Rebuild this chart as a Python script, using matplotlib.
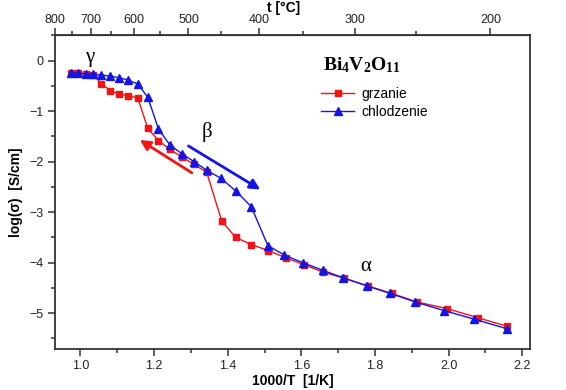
import numpy as np
import matplotlib
matplotlib.use('Agg')
import matplotlib.pyplot as plt
from matplotlib.ticker import MultipleLocator, FixedLocator

plt.rcParams['font.family'] = 'Liberation Sans'
plt.rcParams['mathtext.fontset'] = 'custom'
plt.rcParams['mathtext.bf'] = 'Liberation Serif:bold'
plt.rcParams['mathtext.rm'] = 'Liberation Serif'

# heating (grzanie)
x_grz = [0.974, 0.993, 1.015, 1.035, 1.057, 1.081, 1.105, 1.130, 1.156, 1.183,
         1.212, 1.242, 1.275, 1.309, 1.343, 1.384, 1.422, 1.464, 1.510, 1.557,
         1.607, 1.660, 1.717, 1.780, 1.846, 1.915, 1.996, 2.079, 2.159]
y_grz = [-0.24, -0.25, -0.26, -0.28, -0.455, -0.59, -0.66, -0.69, -0.74, -1.34,
         -1.58, -1.75, -1.905, -2.055, -2.21, -3.18, -3.50, -3.64, -3.76, -3.90,
         -4.04, -4.19, -4.31, -4.46, -4.61, -4.78, -4.91, -5.09, -5.26]

# cooling (chlodzenie)
x_chl = [0.974, 0.993, 1.015, 1.035, 1.057, 1.081, 1.105, 1.130, 1.156, 1.183,
         1.212, 1.242, 1.275, 1.309, 1.343, 1.382, 1.422, 1.464, 1.509, 1.554,
         1.604, 1.658, 1.714, 1.778, 1.842, 1.910, 1.988, 2.070, 2.159]
y_chl = [-0.237, -0.245, -0.257, -0.271, -0.284, -0.304, -0.336, -0.383, -0.462, -0.725,
         -1.35, -1.66, -1.84, -2.00, -2.17, -2.33, -2.58, -2.89, -3.66, -3.85,
         -4.00, -4.15, -4.30, -4.46, -4.61, -4.78, -4.95, -5.12, -5.31]

t_major = [800, 700, 600, 500, 400, 300, 200]
t_minor = [750, 650, 550, 450, 350, 250]

red = '#f01414'
blue = '#1414e6'
frame = '#333333'

fig = plt.figure(figsize=(5.66, 3.9), dpi=100)
ax = fig.add_axes([0.0972, 0.1064, 0.8392, 0.8026])

ax.plot(x_grz, y_grz, '-s', color=red, lw=1.0, ms=4.5, label='grzanie', zorder=3)
ax.plot(x_chl, y_chl, '-^', color=blue, lw=1.0, ms=5.5, label='chlodzenie', zorder=4)

# direction arrows
ax.annotate('', xy=(1.155, -1.54), xytext=(1.309, -2.25),
            arrowprops=dict(arrowstyle='-|>', color=red, lw=2, mutation_scale=15))
ax.annotate('', xy=(1.495, -2.58), xytext=(1.287, -1.66),
            arrowprops=dict(arrowstyle='-|>', color=blue, lw=2, mutation_scale=15))

serif = 'Liberation Serif'
ax.text(1.024, 0.06, 'γ', family=serif, fontsize=15, ha='center', va='center')
ax.text(1.343, -1.41, 'β', family=serif, fontsize=15, ha='center', va='center')
ax.text(1.776, -4.08, 'α', family=serif, fontsize=15, ha='center', va='center')
ax.text(1.659, -0.09, r'$\mathbf{Bi_4V_2O_{11}}$', fontsize=14, ha='left', va='center')

ax.set_xlim(0.931, 2.221)
ax.set_ylim(-5.7, 0.5)
ax.xaxis.set_major_locator(MultipleLocator(0.2))
ax.xaxis.set_minor_locator(MultipleLocator(0.1))
ax.yaxis.set_major_locator(MultipleLocator(1))
ax.yaxis.set_minor_locator(MultipleLocator(0.5))
ax.tick_params(which='both', direction='out', colors=frame, labelcolor='#222222',
               labelsize=9, width=1.1)
ax.tick_params(which='major', length=5)
ax.tick_params(which='minor', length=3)
for s in ax.spines.values():
    s.set_color(frame)
    s.set_linewidth(1.3)

ax.set_xlabel('1000/T  [1/K]', fontsize=10, fontweight='bold', labelpad=1)
ax.set_ylabel('log(σ)  [S/cm]', fontsize=10, fontweight='bold', labelpad=4)

top = ax.secondary_xaxis('top', functions=(lambda x: 1000.0 / np.asarray(x) - 273.15,
                                           lambda t: 1000.0 / (np.asarray(t) + 273.15)))
top.xaxis.set_major_locator(FixedLocator(t_major))
top.xaxis.set_minor_locator(FixedLocator(t_minor))
top.tick_params(which='both', direction='out', colors=frame, labelcolor='#222222',
                labelsize=9, width=1.1, pad=2)
top.tick_params(which='major', length=5)
top.tick_params(which='minor', length=3)
fig.text(284 / 566, 1 - 8 / 390, 't [°C]', fontsize=10, fontweight='bold',
         ha='center', va='center')

ax.legend(loc='upper left', bbox_to_anchor=(0.56, 0.835), frameon=False,
          fontsize=10, handlelength=2.4, handletextpad=0.5, borderpad=0,
          borderaxespad=0, labelspacing=0.3)

fig.savefig('out.png', dpi=100)
